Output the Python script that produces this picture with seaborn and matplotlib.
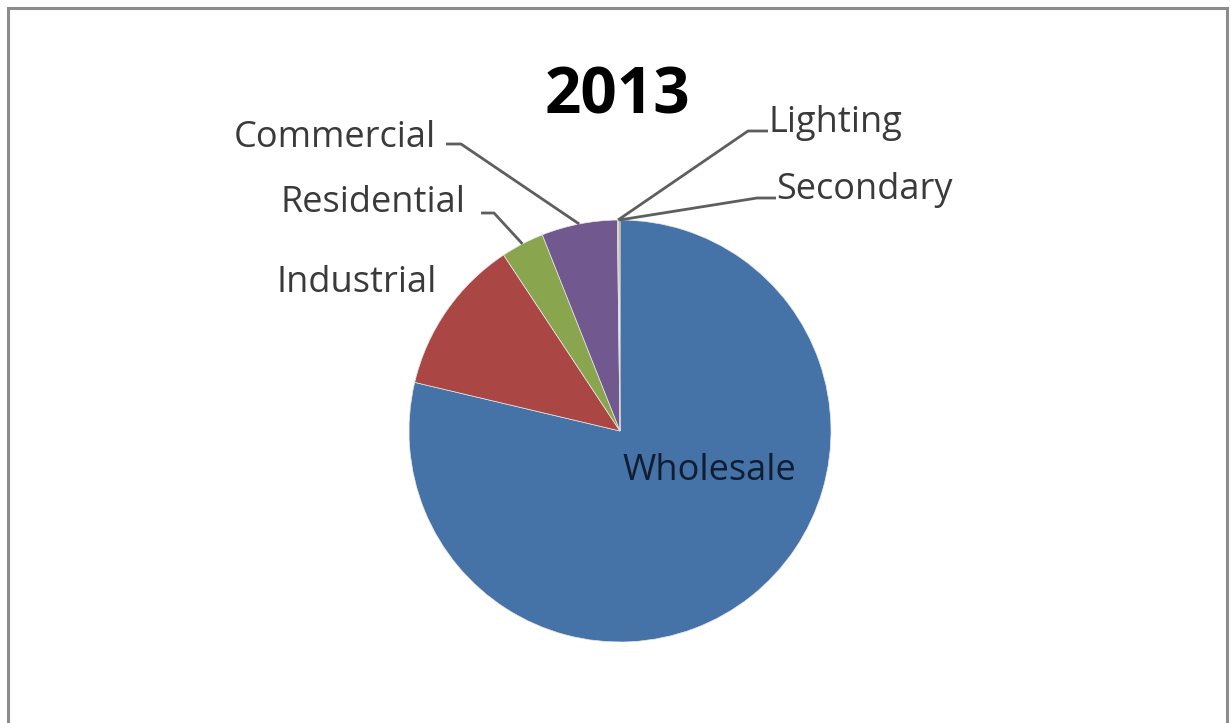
import numpy as np
import matplotlib
matplotlib.use("Agg")
import matplotlib.pyplot as plt
import seaborn as sns

# Sales by customer class, 2013 (percent of total)
categories = ["Wholesale", "Industrial", "Residential", "Commercial", "Lighting", "Secondary"]
shares = [78.7, 12.0, 3.3, 5.8, 0.1, 0.1]
title = "2013"

slice_colors = sns.color_palette(["#4572A7", "#AA4643", "#89A54E", "#71588F", "#4198AF", "#DB843D"])

sns.set_theme(style="white")
plt.rcParams["font.family"] = ["Open Sans", "DejaVu Sans"]

W, H = 1231, 723
fig = plt.figure(figsize=(W / 100, H / 100), dpi=100)
ax = fig.add_axes([0, 0, 1, 1])
ax.set_xlim(0, W)
ax.set_ylim(0, H)
ax.set_axis_off()


def py(y):
    """Convert a top-down pixel row into an axis y value."""
    return H - y


center = (620, py(431))
radius = 211

wedges, _ = ax.pie(
    shares,
    colors=slice_colors,
    startangle=90,
    counterclock=False,
    radius=radius,
    center=center,
    wedgeprops=dict(linewidth=0.5, edgecolor="#e8e8e8"),
)
ax.set_xlim(0, W)
ax.set_ylim(0, H)
ax.set_aspect("equal")


def rim_point(w):
    mid = np.deg2rad((w.theta1 + w.theta2) / 2)
    return center[0] + radius * np.cos(mid), center[1] + radius * np.sin(mid)


label_color = "#3a3a3a"
line_color = "#5e5e5e"
label_size = 26

# label text anchors (left x, baseline row) and leader elbows
label_layout = {
    "Commercial": dict(x=234, base=147, elbow=[(446, 144), (461, 144)]),
    "Residential": dict(x=280, base=212, elbow=[(481, 213), (494, 213)]),
    "Industrial": dict(x=276, base=292, elbow=None),
    "Lighting": dict(x=769, base=132, elbow=[(768, 131), (748, 131)]),
    "Secondary": dict(x=776, base=199, elbow=[(776, 198), (757, 198)]),
}

for name, w in zip(categories, wedges):
    if name == "Wholesale":
        ax.text(622, py(480), name, fontsize=label_size, color="#111d30",
                ha="left", va="baseline")
        continue
    spec = label_layout[name]
    ax.text(spec["x"], py(spec["base"]), name, fontsize=label_size,
            color=label_color, ha="left", va="baseline")
    if spec["elbow"]:
        xs = [p[0] for p in spec["elbow"]]
        ys = [py(p[1]) for p in spec["elbow"]]
        tx, ty = rim_point(w)
        xs.append(tx)
        ys.append(ty)
        ax.plot(xs, ys, color=line_color, lw=2.0, solid_capstyle="butt")

ax.text(545, py(113), title, fontsize=46, fontweight="bold", color="black",
        ha="left", va="baseline")

# chart area frame
frame = plt.Rectangle((8, -20), 1219, py(8) + 20, fill=False,
                      edgecolor="#8c8c8c", linewidth=2.2)
ax.add_patch(frame)

fig.savefig("out.png", dpi=100, facecolor="white")
